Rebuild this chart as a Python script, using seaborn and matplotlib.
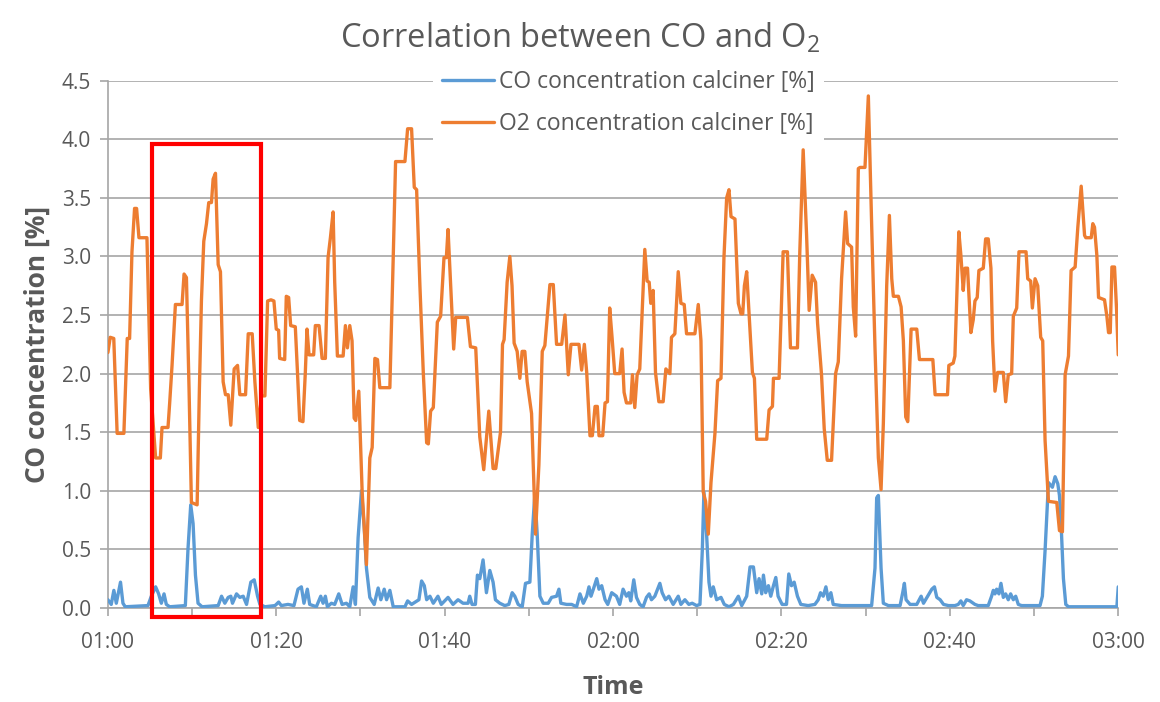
import matplotlib
matplotlib.use("Agg")
import matplotlib.pyplot as plt
import seaborn as sns
import pandas as pd
from matplotlib.patches import Rectangle

# minutes after 01:00
o2_minutes = [0.0, 0.28, 0.7, 1.1, 1.9, 2.3, 2.58, 2.86, 3.17, 3.41, 3.69, 4.64, 5.08, 5.67, 6.23, 6.43,
              7.14, 7.34, 7.62, 8.02, 8.81, 9.05, 9.33, 9.64, 9.92, 10.6, 10.87, 11.11, 11.39, 11.71,
              11.98, 12.3, 12.5, 12.78, 13.1, 13.37, 13.69, 13.97, 14.29, 14.6, 15.0, 15.4, 15.67,
              16.35, 16.67, 17.14, 17.46, 17.86, 18.25, 18.65, 18.97, 19.37, 19.72, 20.0, 20.28, 20.4,
              21.0, 21.19, 21.47, 21.71, 22.26, 22.5, 22.78, 23.17, 23.45, 23.65, 23.89, 24.44, 24.64,
              25.08, 25.44, 25.83, 26.15, 26.43, 26.75, 26.94, 27.26, 27.94, 28.21, 28.45, 28.73, 29.0,
              29.25, 29.44, 29.8, 30.2, 30.71, 31.11, 31.39, 31.71, 32.02, 32.3, 33.49, 33.89, 34.17,
              35.28, 35.6, 36.07, 36.39, 36.67, 37.06, 37.46, 37.86, 38.06, 38.33, 38.65, 39.13, 39.52,
              39.92, 40.2, 40.4, 40.79, 41.07, 41.31, 42.7, 43.06, 43.69, 44.17, 44.64, 45.24, 45.75,
              46.07, 46.63, 46.87, 47.06, 47.42, 47.74, 48.0, 48.25, 48.61, 48.93, 49.2, 49.52, 49.8,
              50.32, 50.79, 51.19, 51.59, 51.9, 52.5, 52.9, 53.29, 53.9, 54.29, 54.68, 55.0, 55.95,
              56.27, 56.59, 56.87, 57.26, 57.54, 57.86, 58.13, 58.33, 58.77, 59.05, 59.33, 59.6, 59.88,
              60.2, 60.79, 61.07, 61.31, 61.59, 62.1, 62.3, 62.58, 62.86, 63.17, 63.45, 63.77, 64.05,
              64.29, 64.48, 64.76, 65.04, 65.44, 65.95, 66.27, 66.75, 66.94, 67.34, 67.74, 68.06, 68.45,
              68.73, 69.72, 70.12, 70.44, 70.71, 70.99, 71.31, 71.63, 72.1, 72.42, 72.82, 73.17, 73.49,
              73.77, 74.01, 74.48, 74.88, 75.2, 75.4, 75.6, 75.87, 76.15, 76.55, 76.79, 77.06, 78.25,
              78.53, 78.93, 79.05, 79.72, 80.2, 80.71, 81.07, 81.9, 82.18, 82.58, 82.98, 83.29, 83.65,
              84.05, 84.29, 84.76, 85.08, 85.44, 85.95, 86.43, 86.75, 87.14, 87.62, 87.86, 88.33, 88.53,
              88.81, 89.13, 89.33, 89.92, 90.32, 90.71, 91.11, 91.51, 91.83, 92.1, 92.5, 92.82, 93.1,
              93.29, 93.89, 94.21, 94.48, 94.76, 95.0, 95.4, 96.07, 96.39, 97.98, 98.25, 99.72, 99.88,
              100.4, 100.6, 101.07, 101.31, 101.59, 101.79, 102.1, 102.5, 102.78, 102.98, 103.25,
              103.45, 103.97, 104.25, 104.56, 104.88, 105.08, 105.36, 105.67, 106.35, 106.63, 106.94,
              107.34, 107.54, 107.94, 108.21, 109.05, 109.25, 109.6, 109.8, 110.12, 110.44, 110.79,
              111.03, 111.31, 111.71, 112.7, 113.02, 113.37, 113.69, 114.09, 114.4, 114.88, 115.2,
              115.6, 116.0, 116.15, 116.79, 116.98, 117.18, 117.46, 117.66, 118.37, 118.65, 118.85,
              119.05, 119.25, 119.56, 119.8, 120.0]
o2_values = [2.18, 2.31, 2.30, 1.49, 1.49, 2.30, 2.30, 3.04, 3.41, 3.41, 3.16, 3.16, 1.87, 1.28, 1.28, 1.54,
             1.54, 1.75, 2.07, 2.59, 2.59, 2.85, 2.82, 1.87, 0.90, 0.88, 1.87, 2.62, 3.13, 3.28,
             3.46, 3.46, 3.66, 3.71, 2.93, 2.87, 1.93, 1.82, 1.82, 1.56, 2.04, 2.07, 1.82,
             1.82, 2.34, 2.34, 1.93, 1.54, 1.81, 1.81, 2.62, 2.63, 2.62, 2.38, 2.37, 2.13,
             2.12, 2.66, 2.65, 2.41, 2.40, 2.04, 1.60, 1.59, 2.01, 2.38, 2.16, 2.16, 2.41,
             2.41, 2.13, 2.13, 2.99, 3.16, 3.38, 2.78, 2.15, 2.15, 2.41, 2.22, 2.41, 2.28,
             1.62, 1.60, 1.85, 0.99, 0.37, 1.28, 1.37, 2.13, 2.12, 1.88, 1.88, 2.99, 3.81,
             3.81, 4.09, 4.09, 3.59, 3.57, 2.75, 2.01, 1.41, 1.40, 1.68, 1.71, 2.44, 2.49,
             2.99, 2.99, 3.23, 2.63, 2.21, 2.48, 2.48, 2.23, 2.22, 1.46, 1.18, 1.68, 1.19,
             1.19, 1.50, 2.25, 2.29, 2.78, 3.00, 2.75, 2.26, 2.19, 1.96, 2.19, 2.19, 1.93,
             1.66, 0.63, 1.22, 2.19, 2.24, 2.76, 2.76, 2.25, 2.25, 2.50, 1.99, 2.25, 2.25,
             2.03, 2.25, 2.01, 1.47, 1.47, 1.72, 1.72, 1.47, 1.47, 1.75, 1.76, 2.56, 2.31,
             2.00, 2.00, 2.21, 1.84, 1.75, 1.75, 1.99, 1.71, 1.99, 2.04, 2.51, 3.06, 2.79,
             2.78, 2.60, 2.71, 2.01, 1.76, 1.76, 2.04, 2.00, 2.31, 2.34, 2.87, 2.60, 2.59,
             2.34, 2.34, 2.59, 2.28, 0.99, 0.91, 0.63, 1.07, 1.49, 1.94, 1.96, 2.99, 3.50,
             3.57, 3.34, 3.32, 2.60, 2.51, 2.51, 2.75, 2.87, 2.51, 2.01, 1.96, 1.44, 1.44,
             1.69, 1.72, 1.96, 1.96, 3.04, 3.04, 2.22, 2.22, 3.04, 3.91, 3.19, 2.54, 2.84,
             2.78, 2.43, 1.99, 1.53, 1.26, 1.26, 2.00, 2.10, 2.81, 3.38, 3.11, 3.08, 2.57,
             2.32, 3.75, 3.76, 3.76, 4.37, 3.28, 2.22, 1.28, 1.01, 1.57, 2.75, 3.35, 2.81,
             2.66, 2.66, 2.57, 2.28, 1.63, 1.59, 2.38, 2.38, 2.12, 2.12, 1.82, 1.82, 2.07,
             2.09, 2.15, 3.21, 3.01, 2.71, 2.90, 2.90, 2.35, 2.46, 2.62, 2.65,
             2.88, 2.90, 3.15, 3.15, 2.90, 2.28, 1.85, 2.01, 2.01, 1.76, 1.99,
             2.00, 2.49, 2.56, 3.04, 3.04, 2.81, 2.79, 2.56, 2.81, 2.75, 2.31,
             2.28, 1.43, 0.91, 0.90, 0.66, 0.65, 1.99, 2.15, 2.88, 2.91, 3.25,
             3.60, 3.18, 3.16, 3.16, 3.28, 3.25, 3.01, 2.65, 2.63, 2.49, 2.35,
             2.35, 2.91, 2.91, 2.55, 2.16]

co_minutes = [0.0, 0.4, 0.71, 1.0, 1.5, 1.79, 2.06, 4.76, 5.16, 5.67, 6.03, 6.35, 6.67, 6.94, 7.34, 9.2,
              9.52, 9.84, 10.12, 10.4, 10.71, 11.19, 13.1, 13.5, 13.89, 14.29, 14.6, 14.8, 15.28, 15.67,
              16.07, 16.47, 16.98, 17.38, 17.78, 18.06, 18.65, 19.84, 20.0, 20.28, 20.6, 21.39, 22.1,
              22.58, 22.98, 23.29, 23.69, 23.97, 24.76, 25.28, 25.56, 25.83, 26.07, 26.55, 26.94, 27.42,
              27.82, 28.33, 28.73, 29.13, 29.4, 29.72, 30.12, 30.44, 30.71, 31.11, 31.63, 32.1, 32.42,
              32.82, 33.1, 33.49, 33.89, 35.28, 35.6, 36.07, 36.94, 37.26, 37.58, 37.86, 38.25, 38.65,
              39.2, 39.6, 40.4, 40.99, 41.59, 42.18, 42.78, 42.98, 43.25, 43.65, 43.89, 44.17, 44.56,
              44.96, 45.36, 45.75, 46.03, 46.55, 47.14, 47.62, 48.02, 48.33, 48.73, 49.21, 49.6, 50.12,
              50.4, 50.71, 50.99, 51.31, 51.71, 52.3, 52.7, 53.29, 53.57, 53.8, 54.48, 55.08, 55.67,
              56.07, 56.47, 56.87, 57.14, 57.38, 57.66, 58.06, 58.33, 58.65, 59.05, 59.37, 59.84, 60.4,
              60.79, 61.19, 61.59, 61.87, 62.1, 62.46, 62.78, 63.17, 63.57, 63.97, 64.29, 64.56, 64.96,
              65.56, 65.83, 66.23, 66.63, 67.14, 67.74, 68.06, 68.53, 69.0, 69.4, 69.92, 70.32, 70.6,
              70.79, 71.11, 71.39, 71.63, 71.9, 72.3, 72.82, 73.21, 73.77, 74.29, 74.88, 75.28, 75.87,
              76.27, 76.67, 77.06, 77.34, 77.66, 77.86, 78.13, 78.45, 78.73, 79.05, 79.33, 79.6, 80.08,
              80.6, 80.87, 81.19, 81.51, 81.9, 82.3, 83.17, 83.97, 84.37, 84.64, 84.96, 85.28, 85.56,
              85.87, 86.15, 87.14, 90.71, 91.11, 91.31, 91.51, 91.83, 92.1, 92.7, 94.09, 94.4, 94.6,
              94.8, 95.28, 96.07, 96.59, 96.87, 97.86, 98.17, 98.45, 98.85, 99.25, 99.84, 100.6, 101.0,
              101.31, 101.59, 101.98, 102.38, 102.98, 103.37, 104.56, 104.96, 105.16, 105.36, 105.56,
              105.83, 106.07, 106.35, 106.63, 106.94, 107.22, 107.54, 107.82, 108.13, 108.53, 110.71,
              110.99, 111.31, 111.71, 112.18, 112.5, 112.82, 113.02, 113.21, 113.49, 113.77, 114.09,
              119.84, 120.0]
co_values = [0.07, 0.03, 0.15, 0.04, 0.22, 0.04, 0.01, 0.02, 0.10, 0.18, 0.12, 0.04, 0.12, 0.03, 0.01, 0.02,
             0.51, 0.88, 0.72, 0.28, 0.04, 0.01, 0.02, 0.10, 0.04, 0.09, 0.10, 0.04, 0.12, 0.09,
             0.10, 0.03, 0.22, 0.24, 0.10, 0.03, 0.01, 0.02, 0.03, 0.05, 0.02, 0.03, 0.02,
             0.16, 0.18, 0.04, 0.16, 0.03, 0.01, 0.10, 0.04, 0.10, 0.01, 0.04, 0.03, 0.12,
             0.03, 0.04, 0.01, 0.18, 0.03, 0.60, 1.00, 0.69, 0.34, 0.09, 0.03, 0.17, 0.07,
             0.16, 0.07, 0.15, 0.01, 0.01, 0.06, 0.03, 0.07, 0.23, 0.19, 0.07, 0.10, 0.04,
             0.10, 0.03, 0.09, 0.03, 0.07, 0.04, 0.04, 0.10, 0.03, 0.03, 0.28, 0.25, 0.41,
             0.13, 0.32, 0.22, 0.07, 0.04, 0.02, 0.03, 0.13, 0.10, 0.03, 0.01, 0.21, 0.22,
             0.63, 0.97, 0.63, 0.10, 0.04, 0.04, 0.09, 0.10, 0.16, 0.04, 0.03, 0.03, 0.01,
             0.12, 0.04, 0.10, 0.18, 0.10, 0.16, 0.25, 0.16, 0.19, 0.07, 0.03, 0.13, 0.10,
             0.03, 0.16, 0.10, 0.13, 0.06, 0.24, 0.09, 0.03, 0.01, 0.09, 0.12, 0.07, 0.10,
             0.21, 0.13, 0.07, 0.10, 0.03, 0.10, 0.03, 0.07, 0.03, 0.04, 0.02, 0.03, 0.49,
             0.99, 0.63, 0.22, 0.10, 0.18, 0.07, 0.09, 0.03, 0.01, 0.03, 0.10, 0.02, 0.10,
             0.35, 0.35, 0.13, 0.25, 0.12, 0.28, 0.13, 0.19, 0.10, 0.19, 0.26, 0.10, 0.03,
             0.03, 0.29, 0.19, 0.22, 0.10, 0.03, 0.02, 0.03, 0.07, 0.13, 0.10, 0.18, 0.07,
             0.13, 0.03, 0.02, 0.02, 0.34, 0.94, 0.96, 0.34, 0.04, 0.02, 0.02, 0.13, 0.21,
             0.07, 0.03, 0.03, 0.10, 0.04, 0.16, 0.18, 0.09, 0.07, 0.03, 0.02, 0.02, 0.03,
             0.06, 0.02, 0.07, 0.06, 0.03, 0.02, 0.02, 0.10, 0.15, 0.12, 0.16,
             0.12, 0.21, 0.09, 0.12, 0.07, 0.12, 0.07, 0.10, 0.03, 0.02, 0.02,
             0.10, 0.49, 1.07, 1.03, 1.12, 1.06, 0.96, 0.72, 0.25, 0.03, 0.01,
             0.01, 0.18]

x_ticks = [0, 20, 40, 60, 80, 100, 120]
x_tick_labels = ["01:00", "01:20", "01:40", "02:00", "02:20", "02:40", "03:00"]
y_ticks = [0.0, 0.5, 1.0, 1.5, 2.0, 2.5, 3.0, 3.5, 4.0, 4.5]
y_tick_labels = ["0.0", "0.5", "1.0", "1.5", "2.0", "2.5", "3.0", "3.5", "4.0", "4.5"]

# highlighted window (minutes after 01:00)
box_start, box_end = 5.27, 18.14

co_df = pd.DataFrame({"minute": co_minutes, "value": co_values})
o2_df = pd.DataFrame({"minute": o2_minutes, "value": o2_values})

sns.set_theme(style="white")
plt.rcParams["font.family"] = ["Open Sans", "DejaVu Sans"]
plt.rcParams["mathtext.default"] = "regular"
grey = "#595959"

fig = plt.figure(figsize=(11.6, 7.02), dpi=100)
ax = fig.add_axes([0.093, 0.134, 0.871, 0.751])

sns.lineplot(data=co_df, x="minute", y="value", ax=ax, color="#5B9BD5", lw=2.4,
             estimator=None, label="CO concentration calciner [%]", zorder=3)
sns.lineplot(data=o2_df, x="minute", y="value", ax=ax, color="#ED7D31", lw=2.4,
             estimator=None, label="O2 concentration calciner [%]", zorder=3)

ax.set_xlim(0, 120)
ax.set_ylim(0, 4.5)
ax.set_xticks(x_ticks)
ax.set_xticklabels(x_tick_labels)
ax.set_xticks(range(10, 120, 20), minor=True)
ax.set_yticks(y_ticks)
ax.set_yticklabels(y_tick_labels)

ax.yaxis.grid(True, color="#A6A6A6", lw=1.2, zorder=0)
ax.set_axisbelow(True)
for side in ["top", "right"]:
    ax.spines[side].set_visible(False)
for side in ["left", "bottom"]:
    ax.spines[side].set_color("#A6A6A6")
    ax.spines[side].set_linewidth(1.2)

ax.tick_params(axis="x", which="both", direction="out", length=6, width=1.2,
               color="#A6A6A6", bottom=True, labelsize=15, labelcolor=grey, pad=11)
ax.tick_params(axis="y", direction="out", length=6, width=1.2, color="#A6A6A6",
               left=True, labelsize=15, labelcolor=grey, pad=6)

ax.set_xlabel("Time", fontsize=18, fontweight="bold", color=grey, labelpad=16)
ax.set_ylabel("CO concentration [%]", fontsize=19, fontweight="bold", color=grey, labelpad=8)
fig.text(0.5, 0.946, "Correlation between CO and O$_2$", ha="center", va="center",
         fontsize=23.5, color=grey)

leg = ax.legend(loc="upper center", bbox_to_anchor=(0.515, 1.037), frameon=True,
                fancybox=False, facecolor="white", edgecolor="none", framealpha=1,
                fontsize=16.5, handlelength=2.3, handletextpad=0.2, labelspacing=0.78,
                borderpad=0.4, borderaxespad=0)
for t in leg.get_texts():
    t.set_color(grey)
leg.set_zorder(5)

ax.add_patch(Rectangle((box_start, -0.075), box_end - box_start, 4.035, fill=False,
                       edgecolor="#FF0000", lw=3, clip_on=False, zorder=4))

fig.savefig("out.png", dpi=100)
